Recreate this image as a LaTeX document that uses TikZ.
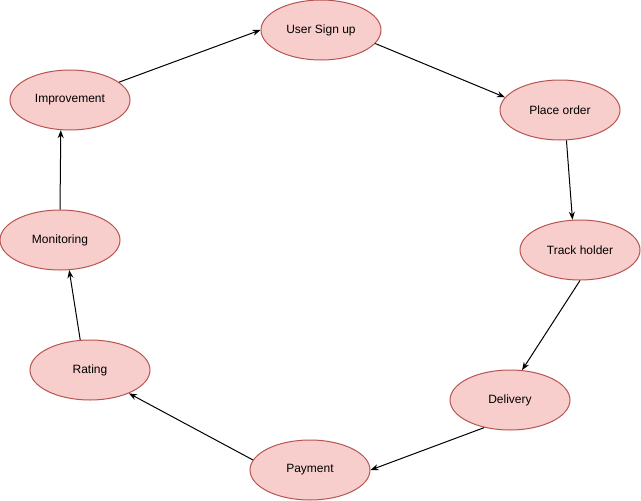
\documentclass[tikz,border=0pt]{standalone}
\usepackage{fontspec}
\setmainfont{Liberation Sans}
\usetikzlibrary{shapes.geometric,arrows.meta}
\definecolor{stagefill}{HTML}{F8CECC}
\definecolor{stageline}{HTML}{B85450}
\begin{document}
\begin{tikzpicture}[
x=1pt, y=-1pt,
stage/.style={ellipse, draw=stageline, fill=stagefill, line width=1pt, minimum width=120pt, minimum height=60pt, inner sep=0pt, font=\fontsize{12}{14}\selectfont},
flow/.style={-{Stealth[length=8pt,width=6pt]}, line width=1pt, black},
]
\useasboundingbox (0,0) rectangle (641,501);
\node[stage] (signup) at (321,30) {User Sign up};
\node[stage] (order) at (560,110) {Place order};
\node[stage] (track) at (580,250) {Track holder};
\node[stage] (delivery) at (510,400) {Delivery};
\node[stage] (payment) at (310,470) {Payment};
\node[stage] (rating) at (90,370) {Rating};
\node[stage] (monitor) at (60,240) {Monitoring};
\node[stage] (improve) at (70,100) {Improvement};
% the cycle
\draw[flow] (improve.20) -- (signup.west);
\draw[flow] (signup.-14) -- (order.167);
\draw[flow] (order.-78) -- (track.104);
\draw[flow] (track.south) -- (delivery.68);
\draw[flow] (delivery.-133) -- (payment.east);
\draw[flow] (payment.170) -- (rating.-31);
\draw[flow] (rating.108) -- (monitor.-73);
\draw[flow] (monitor.north) -- (improve.-107);
\end{tikzpicture}
\end{document}
